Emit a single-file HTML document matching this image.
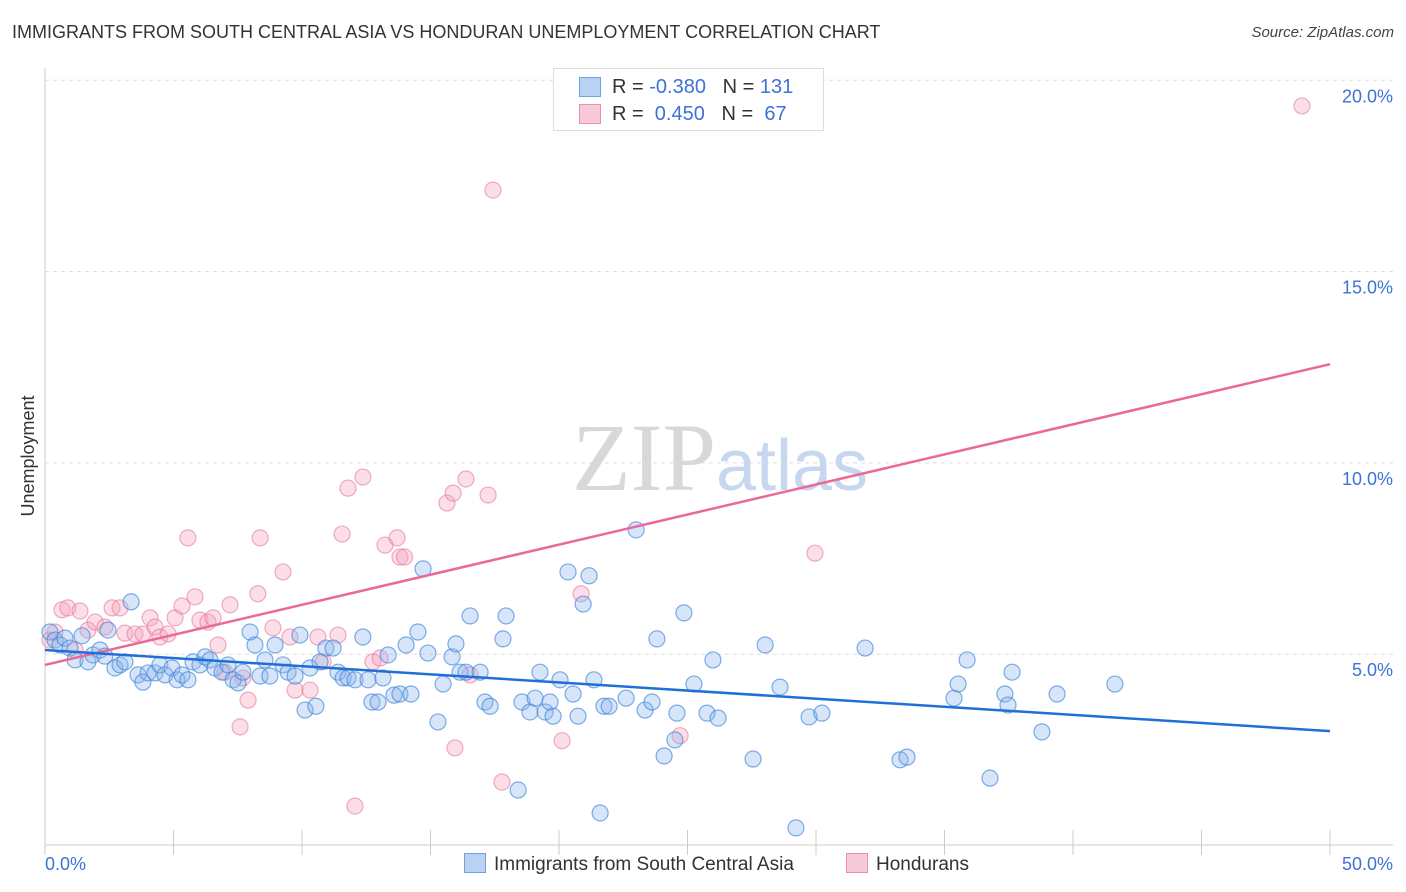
<!DOCTYPE html>
<html><head><meta charset="utf-8"><style>
body{margin:0;background:#fff;font-family:"Liberation Sans",sans-serif;}
#wrap{position:relative;width:1406px;height:892px;overflow:hidden;}
.t{position:absolute;white-space:nowrap;}
</style></head><body>
<div id="wrap">
<div class="t" style="left:12px;top:22px;font-size:18px;color:#333;">IMMIGRANTS FROM SOUTH CENTRAL ASIA VS HONDURAN UNEMPLOYMENT CORRELATION CHART</div>
<div class="t" style="right:12px;top:24px;font-size:15px;color:#444;font-style:italic;">Source: ZipAtlas.com</div>
<svg id="svg" width="1406" height="892" style="position:absolute;left:0;top:0"></svg>
</div>
<script>
const blueX=[0.19,0.39,0.58,0.78,0.97,1.17,1.44,1.67,1.87,2.14,2.33,2.45,2.72,2.92,3.11,3.35,3.62,3.81,4.01,4.28,4.47,4.67,4.94,5.14,5.33,5.56,5.76,6.03,6.23,6.42,6.61,6.89,7.12,7.32,7.51,7.70,7.98,8.17,8.37,8.56,8.75,8.95,9.26,9.46,9.73,9.92,10.12,10.31,10.54,10.70,10.93,11.21,11.40,11.60,11.79,12.06,12.37,12.57,12.72,12.96,13.15,13.35,13.58,13.81,14.05,14.24,14.51,14.71,14.90,15.29,15.49,15.84,15.99,16.15,16.38,16.54,16.93,17.12,17.32,17.82,17.94,18.41,18.56,18.87,19.07,19.26,19.46,19.65,19.77,20.04,20.35,20.55,20.74,20.94,21.17,21.36,21.60,21.75,21.95,22.61,23.00,23.35,23.62,23.81,24.09,24.51,24.59,24.86,25.25,25.76,25.99,26.19,27.55,28.02,28.60,29.22,29.73,30.23,31.91,33.27,33.54,35.37,35.53,35.88,36.77,37.35,37.47,37.63,38.79,39.38,41.63];
const blueY=[5.58,5.37,5.24,5.42,5.16,4.85,5.48,4.80,4.98,5.11,4.95,5.63,4.64,4.72,4.80,6.37,4.46,4.27,4.51,4.51,4.72,4.46,4.64,4.33,4.46,4.33,4.80,4.72,4.93,4.85,4.64,4.53,4.72,4.33,4.25,4.53,5.58,5.24,4.43,4.85,4.43,5.24,4.72,4.53,4.43,5.50,3.54,4.64,3.64,4.80,5.16,5.16,4.53,4.38,4.38,4.33,5.45,4.33,3.75,3.75,4.38,4.98,3.93,3.96,5.24,3.96,5.58,7.23,5.03,3.23,4.22,4.93,5.27,4.53,4.53,6.00,4.53,3.75,3.64,5.40,6.00,1.45,3.75,3.49,3.85,4.53,3.49,3.75,3.38,4.33,7.15,3.96,3.38,6.31,7.05,4.33,0.85,3.64,3.64,3.85,8.25,3.54,3.75,5.40,2.34,2.76,3.46,6.08,4.22,3.46,4.85,3.33,2.26,5.24,4.14,0.46,3.36,3.46,5.16,2.24,2.31,3.85,4.22,4.85,1.76,3.96,3.67,4.53,2.97,3.96,4.22];
const pinkX=[0.19,0.39,0.66,0.89,1.17,1.36,1.67,1.95,2.33,2.61,2.92,3.11,3.50,3.81,4.09,4.28,4.47,4.79,5.06,5.33,5.56,5.84,6.03,6.34,6.54,6.73,7.00,7.20,7.59,7.70,7.90,8.28,8.37,8.87,9.26,9.53,9.73,10.31,10.62,10.82,11.40,11.56,11.79,12.06,12.37,12.76,13.04,13.23,13.70,13.81,13.99,15.64,15.88,15.95,16.38,16.54,17.24,17.43,17.78,20.12,20.86,24.71,29.96,48.91];
const pinkY=[5.37,5.58,6.16,6.21,5.11,6.13,5.63,5.84,5.71,6.21,6.21,5.55,5.53,5.53,5.95,5.71,5.45,5.53,5.95,6.26,8.04,6.50,5.89,5.84,5.95,5.24,4.53,6.29,3.10,4.38,3.80,6.58,8.04,5.69,7.15,5.45,4.06,4.06,5.45,4.80,5.50,8.14,9.34,1.03,9.63,4.80,4.90,7.85,8.04,7.54,7.54,8.95,9.21,2.55,9.58,4.46,9.16,17.13,1.66,2.74,6.58,2.87,7.64,19.33];
const blueLine=[5.11,2.99];
const pinkLine=[4.72,12.58];
const yTicks=[5,10,15,20];
const xTickLabels=["0.0%","50.0%"];

const svg=document.getElementById('svg');
const NS='http://www.w3.org/2000/svg';
const X=v=>45+v/50*1285;
const Y=v=>845.5-v*38.26;
function mk(tag,attrs,parent){const e=document.createElementNS(NS,tag);for(const k in attrs)e.setAttribute(k,attrs[k]);(parent||svg).appendChild(e);return e;}
yTicks.forEach(t=>{
  const g=mk('line',{x1:45,x2:1393,y1:Y(t),y2:Y(t),stroke:'#ddd','stroke-dasharray':'4,4'});
  
  
  const tx=mk('text',{x:1393,y:Y(t)+22,'text-anchor':'end','font-size':18,fill:'#3d72d6','font-family':'Liberation Sans'});
  tx.textContent=t.toFixed(1)+'%';
  
  
});
const ax=mk('line',{x1:45,x2:45,y1:68,y2:845,stroke:'#ccc'});


const bx=mk('line',{x1:45,x2:1393,y1:845,y2:845,stroke:'#ccc'});


for(let i=0;i<=10;i++){const tk=mk('line',{x1:X(i*5),x2:X(i*5),y1:830,y2:855,stroke:'#ccc'});

}
const xl0=mk('text',{x:45,y:870,'font-size':18,fill:'#3d72d6','font-family':'Liberation Sans'});xl0.textContent=xTickLabels[0];


const xl1=mk('text',{x:1393,y:870,'text-anchor':'end','font-size':18,fill:'#3d72d6','font-family':'Liberation Sans'});xl1.textContent=xTickLabels[1];


const yt=mk('text',{x:34,y:456,'text-anchor':'middle','font-size':18,fill:'#333',transform:'rotate(-90 34 456)','font-family':'Liberation Sans'});yt.textContent='Unemployment';


const wm=mk('text',{x:720,y:490,'text-anchor':'middle','font-size':96,'font-family':'Liberation Serif'});
wm.innerHTML='<tspan fill="#d8d8d8">ZIP</tspan><tspan fill="#c7d7ef" font-family="Liberation Sans" font-size="72">atlas</tspan>';


pinkX.forEach((x,i)=>{const c=mk('circle',{cx:X(x),cy:Y(pinkY[i]),r:8,fill:'rgba(244,160,185,0.35)',stroke:'rgba(232,120,155,0.6)','stroke-width':1.2});

});
blueX.forEach((x,i)=>{const c=mk('circle',{cx:X(x),cy:Y(blueY[i]),r:8,fill:'rgba(140,180,235,0.35)',stroke:'rgba(60,130,220,0.65)','stroke-width':1.2});

});
const pl=mk('line',{x1:X(0),y1:Y(pinkLine[0]),x2:X(50),y2:Y(pinkLine[1]),stroke:'#e8699a','stroke-width':2.5});


const bl=mk('line',{x1:X(0),y1:Y(blueLine[0]),x2:X(50),y2:Y(blueLine[1]),stroke:'#1f6fd6','stroke-width':2.5});


</script>
<div style="position:absolute;left:553px;top:68px;width:269px;height:61px;border:1px solid #ddd;background:#fff;font-size:20px;color:#333;">
 <div style="position:absolute;left:25px;top:8px;width:20px;height:18px;background:#b9d1f3;border:1px solid #6fa0e0"></div>
 <div class="t" style="left:58px;top:7px">R = <span style="color:#3d72d6">-0.380</span>&nbsp;&nbsp;&nbsp;N = <span style="color:#3d72d6">131</span></div>
 <div style="position:absolute;left:25px;top:35px;width:20px;height:18px;background:#f8c9d7;border:1px solid #e890ad"></div>
 <div class="t" style="left:58px;top:34px">R = &nbsp;<span style="color:#3d72d6">0.450</span>&nbsp;&nbsp;&nbsp;N = &nbsp;<span style="color:#3d72d6">67</span></div>
</div>
<div style="position:absolute;left:464px;top:853px;font-size:19px;color:#333;">
 <span style="display:inline-block;width:20px;height:18px;background:#b9d1f3;border:1px solid #6fa0e0;vertical-align:-3px;margin-right:8px"></span>Immigrants from South Central Asia</div>
<div style="position:absolute;left:846px;top:853px;font-size:19px;color:#333;">
 <span style="display:inline-block;width:20px;height:18px;background:#f8c9d7;border:1px solid #e890ad;vertical-align:-3px;margin-right:8px"></span>Hondurans</div>
</body></html>
